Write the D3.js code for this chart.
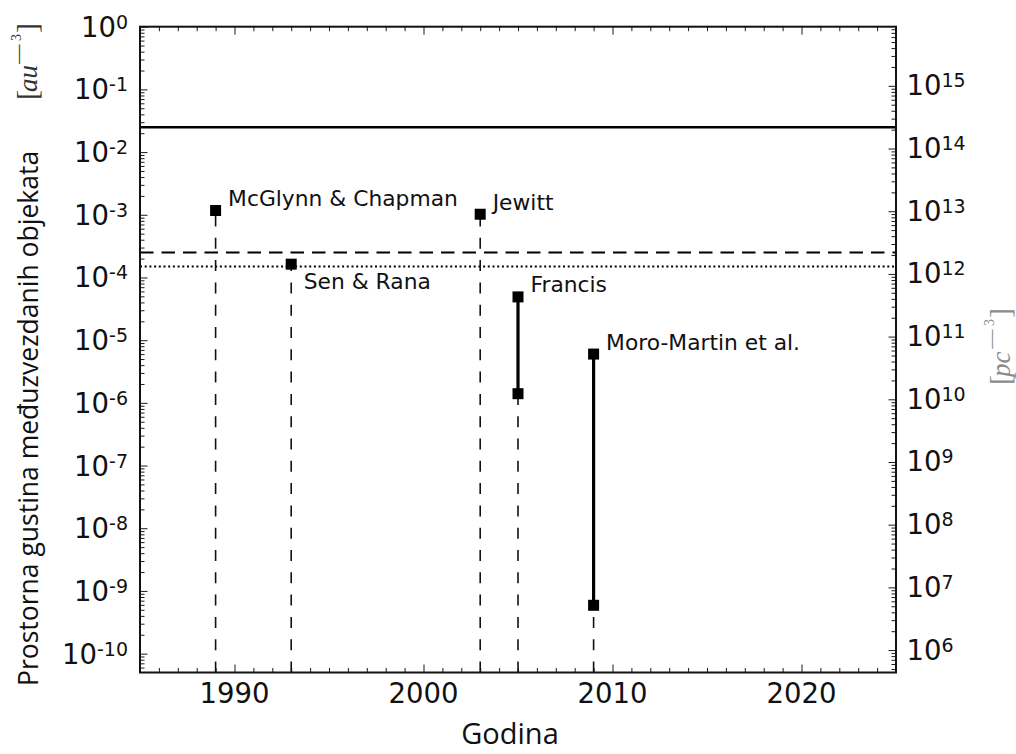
<!DOCTYPE html>
<html>
<head>
<meta charset="utf-8">
<script src="https://cdn.jsdelivr.net/npm/d3@7"></script>
<style>
  html, body { margin: 0; padding: 0; background: #fff; }
  svg { display: block; }
</style>
</head>
<body>
<svg id="chart" width="1016" height="754"></svg>
<script>
// Interstellar object number density estimates by year of publication
const studies = ["McGlynn & Chapman", "Sen & Rana", "Jewitt", "Francis", "Moro-Martin et al."];
const years = [1989, 1993, 2003, 2005, 2009];
const upperDensity = [1.17e-3, 1.63e-4, 1.02e-3, 4.9e-5, 6.0e-6];   // au^-3
const lowerDensity = [1.17e-3, 1.63e-4, 1.02e-3, 1.4e-6, 5.9e-10];  // au^-3 (equal to upper for single estimates)

// Horizontal reference levels (au^-3): solid, dashed, dotted
const referenceLevels = [0.025, 2.5e-4, 1.5e-4];

// Axis ticks
const yearTicks = [1990, 2000, 2010, 2020];
const leftExponents = [0, -1, -2, -3, -4, -5, -6, -7, -8, -9, -10];
const rightExponents = [6, 7, 8, 9, 10, 11, 12, 13, 14, 15];

const W = 1016, H = 754;
const plot = { left: 140, right: 896, top: 26.7, bottom: 672.5 };
const AU3_PER_PC3 = Math.pow(206264.8, 3);

const svg = d3.select("#chart");
svg.append("rect").attr("width", W).attr("height", H).attr("fill", "#fff");

const x = d3.scaleLinear().domain([1985, 2025]).range([plot.left, plot.right]);
const y = d3.scaleLog().domain([5e-11, 1]).range([plot.bottom, plot.top]);
const yR = d3.scaleLog()
  .domain([5e-11 * AU3_PER_PC3, AU3_PER_PC3])
  .range([plot.bottom, plot.top]);

function minorLogValues(scale) {
  const [lo, hi] = scale.domain();
  const out = [];
  for (let e = Math.floor(Math.log10(lo)); e <= Math.ceil(Math.log10(hi)); e++) {
    for (let m = 2; m <= 9; m++) {
      const v = m * Math.pow(10, e);
      if (v >= lo && v <= hi) out.push(v);
    }
  }
  return out;
}

const tickColor = "#1a1a1a";
function styleAxis(g) {
  g.select(".domain").remove();
  g.selectAll(".tick line").attr("stroke", tickColor).attr("stroke-width", 1);
  g.selectAll(".tick text").remove();
}

// ---- tick marks (all pointing into the plot) ----
const minorYears = d3.range(1985, 2026).filter(v => v % 10 !== 0);
[[d3.axisBottom, plot.bottom], [d3.axisTop, plot.top]].forEach(([ax, pos]) => {
  svg.append("g").attr("transform", `translate(0,${pos})`)
    .call(ax(x).tickValues(yearTicks).tickSize(-8).tickSizeOuter(0).tickFormat(""))
    .call(styleAxis);
  svg.append("g").attr("transform", `translate(0,${pos})`)
    .call(ax(x).tickValues(minorYears).tickSize(-4.5).tickSizeOuter(0).tickFormat(""))
    .call(styleAxis);
});

svg.append("g").attr("transform", `translate(${plot.left},0)`)
  .call(d3.axisLeft(y).tickValues(leftExponents.map(e => Math.pow(10, e))).tickSize(-7.5).tickSizeOuter(0).tickFormat(""))
  .call(styleAxis);
svg.append("g").attr("transform", `translate(${plot.left},0)`)
  .call(d3.axisLeft(y).tickValues(minorLogValues(y)).tickSize(-4.5).tickSizeOuter(0).tickFormat(""))
  .call(styleAxis);

svg.append("g").attr("transform", `translate(${plot.right},0)`)
  .call(d3.axisRight(yR).tickValues(rightExponents.map(e => Math.pow(10, e))).tickSize(-7.5).tickSizeOuter(0).tickFormat(""))
  .call(styleAxis);
svg.append("g").attr("transform", `translate(${plot.right},0)`)
  .call(d3.axisRight(yR).tickValues(minorLogValues(yR)).tickSize(-4.5).tickSizeOuter(0).tickFormat(""))
  .call(styleAxis);

// ---- tick labels ----
const tickFont = "'DejaVu Sans', sans-serif";
svg.append("g").selectAll("text").data(yearTicks).join("text")
  .attr("x", d => x(d)).attr("y", plot.bottom + 30)
  .attr("text-anchor", "middle")
  .attr("font-family", tickFont).attr("font-size", 27.5).attr("fill", "#111")
  .text(d => d);

function powerLabel(sel, exponent) {
  sel.append("tspan").attr("font-size", 27.5).text("10");
  sel.append("tspan").attr("font-size", 19).attr("dy", -8).text(String(exponent));
}

svg.append("g").selectAll("text").data(leftExponents).join("text")
  .attr("x", 128).attr("y", d => y(Math.pow(10, d)) + 10)
  .attr("text-anchor", "end")
  .attr("font-family", tickFont).attr("fill", "#111")
  .each(function (d) { powerLabel(d3.select(this), d); });

svg.append("g").selectAll("text").data(rightExponents).join("text")
  .attr("x", 906.5).attr("y", d => yR(Math.pow(10, d)) + 9.5)
  .attr("text-anchor", "start")
  .attr("font-family", tickFont).attr("fill", "#111")
  .each(function (d) { powerLabel(d3.select(this), d); });

// ---- plot contents ----
const content = svg.append("g");

// reference levels
const refStyles = [
  { width: 2.5, dash: null },
  { width: 2.2, dash: "13.5,8" },
  { width: 2, dash: "2,2.7" }
];
content.selectAll("line.ref").data(referenceLevels).join("line")
  .attr("class", "ref")
  .attr("x1", plot.left).attr("x2", plot.right)
  .attr("y1", d => y(d)).attr("y2", d => y(d))
  .attr("stroke", "#000")
  .attr("stroke-width", (d, i) => refStyles[i].width)
  .attr("stroke-dasharray", (d, i) => refStyles[i].dash);

const rows = studies.map((s, i) => ({
  study: s, year: years[i], hi: upperDensity[i], lo: lowerDensity[i]
}));

// dashed drop lines from the bottom of the axis to each estimate
content.selectAll("path.drop").data(rows).join("path")
  .attr("class", "drop")
  .attr("d", d => `M${x(d.year)},${plot.bottom}V${y(d.lo)}`)
  .attr("fill", "none")
  .attr("stroke", "#111").attr("stroke-width", 1.6)
  .attr("stroke-dasharray", "11,11.3");

// solid range bars for estimates given as intervals
content.selectAll("line.range").data(rows.filter(d => d.lo !== d.hi)).join("line")
  .attr("class", "range")
  .attr("x1", d => x(d.year)).attr("x2", d => x(d.year))
  .attr("y1", d => y(d.hi)).attr("y2", d => y(d.lo))
  .attr("stroke", "#000").attr("stroke-width", 3.2);

// square markers at every end of every estimate
const ends = rows.flatMap(d => d.lo !== d.hi
  ? [{ year: d.year, v: d.hi }, { year: d.year, v: d.lo }]
  : [{ year: d.year, v: d.hi }]);
const ms = 11;
content.selectAll("rect.mark").data(ends).join("rect")
  .attr("class", "mark")
  .attr("x", d => x(d.year) - ms / 2).attr("y", d => y(d.v) - ms / 2)
  .attr("width", ms).attr("height", ms)
  .attr("fill", "#000");

// study names
const namesBelow = new Set(["Sen & Rana"]);
content.selectAll("text.study").data(rows).join("text")
  .attr("class", "study")
  .attr("x", d => x(d.year) + 12.5)
  .attr("y", d => namesBelow.has(d.study) ? y(d.hi) + 25 : y(d.hi) - 4.5)
  .attr("font-family", tickFont).attr("font-size", 21.8).attr("fill", "#111")
  .text(d => d.study);

// frame
svg.append("rect")
  .attr("x", plot.left).attr("y", plot.top)
  .attr("width", plot.right - plot.left).attr("height", plot.bottom - plot.top)
  .attr("fill", "none").attr("stroke", "#111").attr("stroke-width", 2);

// ---- axis titles ----
const labelFont = "'Open Sans', 'Noto Sans', sans-serif";
const mathFont = "'Liberation Serif', 'DejaVu Serif', serif";

svg.append("text")
  .attr("x", 510).attr("y", 744)
  .attr("text-anchor", "middle")
  .attr("font-family", labelFont).attr("font-size", 29).attr("fill", "#111")
  .text("Godina");

svg.append("text")
  .attr("transform", "translate(37.5,686) rotate(-90)")
  .attr("font-family", labelFont).attr("font-size", 26.5).attr("fill", "#111")
  .text("Prostorna gustina međuzvezdanih objekata");

// unit in brackets, laid out along a rotated baseline
function unitLabel(tx, ty, base, color) {
  const g = svg.append("g")
    .attr("transform", `translate(${tx},${ty}) rotate(-90)`)
    .attr("font-family", mathFont).attr("fill", color);
  g.append("text").attr("x", 0).attr("y", 0).attr("font-size", 30).text("[");
  g.append("text").attr("x", 8).attr("y", 0).attr("font-size", 27)
    .attr("font-style", "italic").text(base);
  g.append("text").attr("transform", "translate(34,-11) scale(2.1,1)")
    .attr("font-size", 20).text("−");
  g.append("text").attr("x", 59).attr("y", -16).attr("font-size", 14).text("3");
  g.append("text").attr("x", 67).attr("y", 0).attr("font-size", 30).text("]");
}
unitLabel(37, 100, "au", "#333");
unitLabel(1010, 385, "pc", "#8c8c8c");
</script>
</body>
</html>
